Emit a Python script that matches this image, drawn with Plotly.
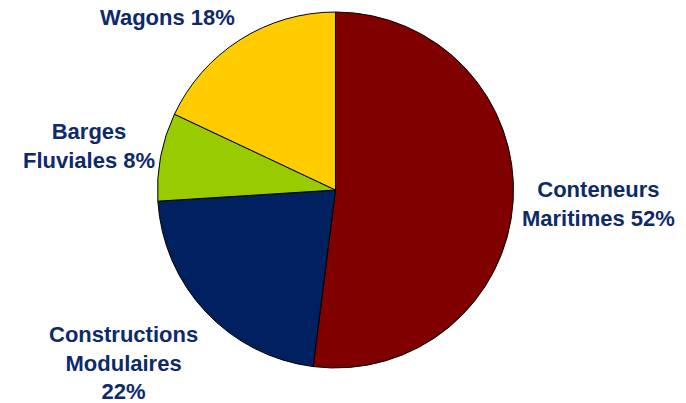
import plotly.graph_objects as go

# Data
labels = ["Conteneurs Maritimes", "Constructions Modulaires", "Barges Fluviales", "Wagons"]
values = [52, 22, 8, 18]
colors = ["#800000", "#002060", "#99CC00", "#FFCC00"]

# Label text layout (line breaks) and pixel positions of label centres
label_lines = ["Conteneurs<br>Maritimes ", "Constructions<br>Modulaires<br>", "Barges<br>Fluviales ", "Wagons "]
label_pos_px = [(598, 204), (123, 363), (89, 146), (167, 18)]

W, H = 686, 403
cx, cy, r = 335.5, 190, 178

fig = go.Figure(go.Pie(
    labels=labels,
    values=values,
    sort=False,
    direction="clockwise",
    rotation=0,
    marker=dict(colors=colors, line=dict(color="#000000", width=1)),
    textinfo="none",
    hoverinfo="label+percent",
    showlegend=False,
    domain=dict(x=[(cx - r) / W, (cx + r) / W], y=[1 - (cy + r) / H, 1 - (cy - r) / H]),
))

annotations = []
for lines, v, (px, py) in zip(label_lines, values, label_pos_px):
    annotations.append(dict(
        x=px / W, y=1 - py / H, xref="paper", yref="paper",
        xanchor="center", yanchor="middle", align="center",
        text=f"{lines}{v}%", showarrow=False,
        font=dict(family="Liberation Sans, Arial, sans-serif", size=22, color="#0D2A6B", weight="bold"),
    ))

fig.update_layout(
    width=W, height=H,
    margin=dict(l=0, r=0, t=0, b=0),
    paper_bgcolor="white", plot_bgcolor="white",
    annotations=annotations,
    font=dict(family="Liberation Sans, Arial, sans-serif"),
)

fig.write_html("out.html")
